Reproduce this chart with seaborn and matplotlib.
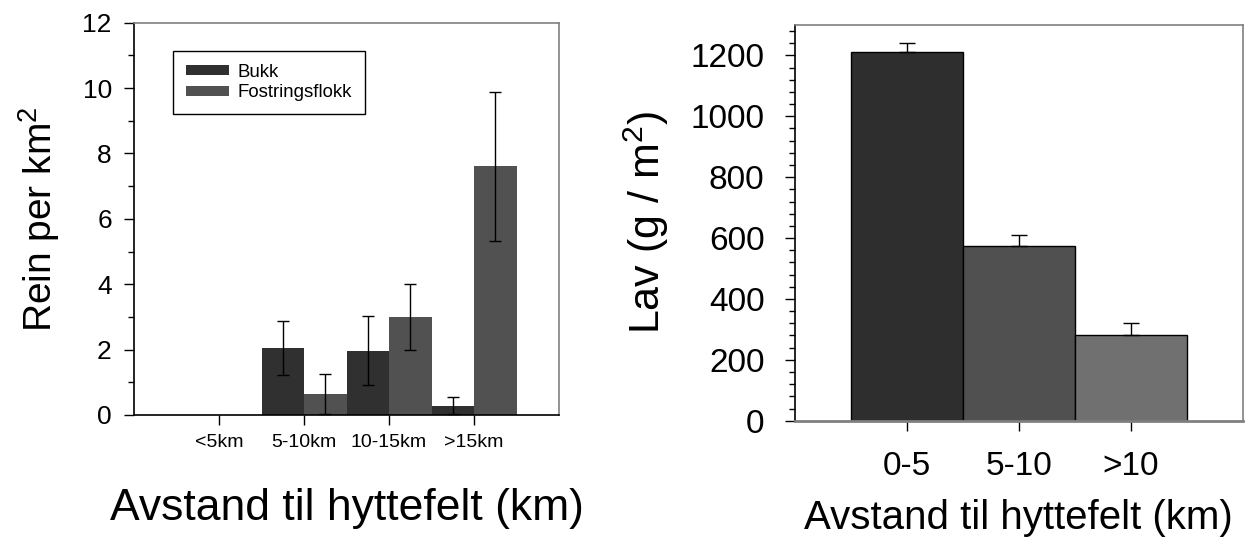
import numpy as np
import pandas as pd
import seaborn as sns
import matplotlib.pyplot as plt
from matplotlib.ticker import MultipleLocator

# left panel: reindeer density by distance to cabin area
rein_cats = ["<5km", "5-10km", "10-15km", ">15km"]
rein_groups = ["Bukk", "Fostringsflokk"]
bukk_mean = [0.0, 2.05, 1.97, 0.28]
bukk_err = [0.0, 0.83, 1.05, 0.26]
fost_mean = [0.0, 0.64, 3.00, 7.61]
fost_err = [0.0, 0.61, 1.00, 2.28]

# right panel: lichen biomass by distance
lav_cats = ["0-5", "5-10", ">10"]
lav_mean = [1210, 574, 280]
lav_err = [30, 36, 40]

sns.set_style("ticks")
plt.rcParams["font.family"] = ["Liberation Sans", "DejaVu Sans"]
plt.rcParams["mathtext.fontset"] = "custom"
plt.rcParams["mathtext.rm"] = "Liberation Sans"
for key in ["text.color", "axes.labelcolor", "xtick.color", "ytick.color"]:
    plt.rcParams[key] = "black"

fig = plt.figure(figsize=(12.49, 5.5), dpi=100)
ax1 = fig.add_axes([0.1073, 0.2455, 0.3403, 0.7133])
ax2 = fig.add_axes([0.6365, 0.2351, 0.3583, 0.7195])

df_rein = pd.DataFrame({
    "avstand": rein_cats * 2,
    "gruppe": [rein_groups[0]] * 4 + [rein_groups[1]] * 4,
    "rein": bukk_mean + fost_mean,
})
sns.barplot(data=df_rein, x="avstand", y="rein", hue="gruppe",
            order=rein_cats, hue_order=rein_groups,
            palette=["#303030", "#515151"], width=1.0, saturation=1,
            errorbar=None, linewidth=0, ax=ax1)

for cont, errs in zip(ax1.containers, [bukk_err, fost_err]):
    for bar, e in zip(cont, errs):
        if e > 0:
            ax1.errorbar(bar.get_x() + bar.get_width() / 2, bar.get_height(),
                         yerr=e, color="black", lw=1, capsize=4.3, capthick=1)

ax1.set_xlim(-1, 4)
ax1.set_ylim(0, 12)
ax1.yaxis.set_major_locator(MultipleLocator(2))
ax1.yaxis.set_minor_locator(MultipleLocator(1))
ax1.tick_params(axis="y", which="major", length=7, width=1, labelsize=19, pad=9)
ax1.tick_params(axis="y", which="minor", length=4, width=1)
ax1.tick_params(axis="x", length=7, width=1, labelsize=14, pad=7)
ax1.set_xlabel("Avstand til hyttefelt (km)", fontsize=32, labelpad=26)
ax1.set_ylabel(r"Rein per km$^\mathregular{2}$", fontsize=28, labelpad=15)
for s in ["left", "bottom"]:
    ax1.spines[s].set_color("black")
    ax1.spines[s].set_linewidth(1.2)
for s in ["top", "right"]:
    ax1.spines[s].set_color("#808080")
    ax1.spines[s].set_linewidth(1.2)

handles, labels = ax1.get_legend_handles_labels()
ax1.legend(handles, labels, loc="upper left", bbox_to_anchor=(0.091, 0.9287),
           borderaxespad=0, fontsize=13.4, frameon=True, fancybox=False,
           edgecolor="black", framealpha=1, handlelength=2.3, handleheight=0.45,
           handletextpad=0.5, labelspacing=0.2, borderpad=0.7)
ax1.get_legend().get_frame().set_linewidth(1)

sns.barplot(x=lav_cats, y=lav_mean, hue=lav_cats, order=lav_cats,
            palette=["#2e2e2e", "#505050", "#707070"], width=1.0, saturation=1,
            errorbar=None, edgecolor="black", linewidth=1, legend=False, ax=ax2)

bars = [b for cont in ax2.containers for b in cont]
for bar, e in zip(bars, lav_err):
    ax2.errorbar(bar.get_x() + bar.get_width() / 2, bar.get_height(),
                 yerr=[[0], [e]], color="black", lw=1, capsize=5.5, capthick=1)

ax2.set_xlim(-1, 3)
ax2.set_ylim(0, 1300)
ax2.yaxis.set_major_locator(MultipleLocator(200))
ax2.yaxis.set_minor_locator(MultipleLocator(40))
ax2.tick_params(axis="y", which="major", length=7, width=1, labelsize=24, pad=15)
ax2.tick_params(axis="y", which="minor", length=4, width=1)
ax2.tick_params(axis="x", length=7, width=1, labelsize=24, pad=15)
ax2.set_xlabel("Avstand til hyttefelt (km)", fontsize=29, labelpad=12)
ax2.set_ylabel(r"Lav (g / m$^\mathregular{2}$)", fontsize=31, labelpad=14)
ax2.spines["left"].set_color("black")
ax2.spines["left"].set_linewidth(1.2)
ax2.spines["bottom"].set_color("#808080")
ax2.spines["bottom"].set_linewidth(2)
for s in ["top", "right"]:
    ax2.spines[s].set_color("#808080")
    ax2.spines[s].set_linewidth(1.2)

fig.savefig("out.png", dpi=100)
